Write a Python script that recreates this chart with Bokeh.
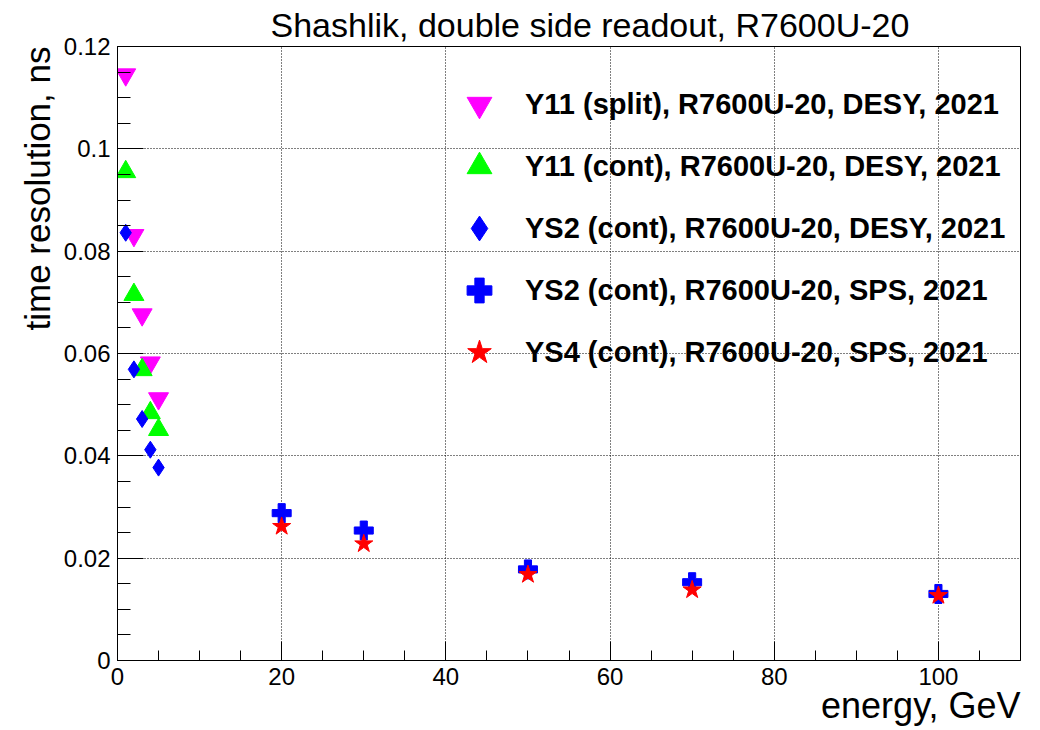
import numpy as np
from bokeh.plotting import figure
from bokeh.models import Range1d, FixedTicker, Title, Legend, LegendItem
from bokeh.embed import file_html
from bokeh.resources import INLINE

# ---------------- data ----------------
title_text = "Shashlik, double side readout, R7600U-20"
x_label = "energy, GeV"
y_label = "time resolution, ns"

desy_energy = [1, 2, 3, 4, 5]
sps_energy = [20, 30, 50, 70, 100]

y11_split_desy = [0.1145, 0.0831, 0.0676, 0.0582, 0.0512]
y11_cont_desy = [0.0955, 0.0715, 0.0568, 0.0484, 0.0451]
ys2_cont_desy = [0.0836, 0.0569, 0.0472, 0.0412, 0.0377]
ys2_cont_sps = [0.0288, 0.0254, 0.0178, 0.0153, 0.0130]
ys4_cont_sps = [0.0262, 0.0228, 0.0168, 0.0138, 0.0127]

series_labels = [
    "Y11 (split), R7600U-20, DESY, 2021",
    "Y11 (cont), R7600U-20, DESY, 2021",
    "YS2 (cont), R7600U-20, DESY, 2021",
    "YS2 (cont), R7600U-20, SPS, 2021",
    "YS4 (cont), R7600U-20, SPS, 2021",
]

x_ticks = [0, 20, 40, 60, 80, 100]
x_tick_labels = ["0", "20", "40", "60", "80", "100"]
y_ticks = [0.0, 0.02, 0.04, 0.06, 0.08, 0.1, 0.12]
y_tick_labels = ["0", "0.02", "0.04", "0.06", "0.08", "0.1", "0.12"]

FONT = "Liberation Sans"

# ---------------- figure ----------------
p = figure(width=1040, height=730, output_backend="svg", toolbar_location=None,
           x_range=Range1d(0, 110), y_range=Range1d(0, 0.12),
           min_border_left=117, min_border_right=20,
           min_border_top=44, min_border_bottom=70)
p.title.visible = False
p.background_fill_color = "white"
p.border_fill_color = "white"
p.outline_line_color = "black"
p.outline_line_width = 1

xt = FixedTicker(ticks=x_ticks, minor_ticks=[float(v) for v in np.arange(0, 111, 5)])
yt = FixedTicker(ticks=y_ticks, minor_ticks=[round(float(v), 3) for v in np.arange(0, 0.1201, 0.005)])
p.xaxis.ticker = xt
p.yaxis.ticker = yt
p.xgrid.ticker = xt
p.ygrid.ticker = yt
p.xaxis.major_label_overrides = {float(t): l for t, l in zip(x_ticks, x_tick_labels)}
p.yaxis.major_label_overrides = {float(t): l for t, l in zip(y_ticks, y_tick_labels)}

for ax in (p.xaxis[0], p.yaxis[0]):
    ax.axis_line_color = "black"
    ax.axis_line_width = 1
    ax.major_tick_line_color = "black"
    ax.minor_tick_line_color = "black"
    ax.major_tick_out = 0
    ax.minor_tick_out = 0
    ax.major_label_text_font = FONT
    ax.major_label_text_font_size = "24px"
    ax.major_label_text_color = "black"
    ax.major_label_standoff = 7
p.xaxis.major_tick_in = 19
p.xaxis.minor_tick_in = 10
p.yaxis.major_tick_in = 26
p.yaxis.minor_tick_in = 13

for g in (p.xgrid[0], p.ygrid[0]):
    g.grid_line_color = "black"
    g.grid_line_dash = "1 2"
    g.grid_line_width = 1

# ---------------- data markers ----------------
r1 = p.scatter(desy_energy, y11_split_desy, marker="inverted_triangle", size=20,
               fill_color="#ff00ff", line_color="#ff00ff")
r2 = p.scatter(desy_energy, y11_cont_desy, marker="triangle", size=20,
               fill_color="#00ff00", line_color="#00ff00")
r3 = p.scatter(desy_energy, ys2_cont_desy, marker="diamond", size=17,
               fill_color="#0000ff", line_color="#0000ff")
r4 = p.scatter(sps_energy, ys2_cont_sps, marker="plus", size=19,
               fill_color="#0000ff", line_color="#0000ff")
r5 = p.scatter(sps_energy, ys4_cont_sps, marker="star", size=19,
               fill_color="#ff0000", line_color="#ff0000")

legend = Legend(
    items=[LegendItem(label=lab, renderers=[r]) for lab, r in zip(series_labels, [r1, r2, r3, r4, r5])],
    location=(331, 277),
    border_line_color=None, background_fill_alpha=0,
    label_text_font=FONT, label_text_font_size="29px", label_text_font_style="bold",
    label_text_color="black", label_standoff=15,
    glyph_width=62, glyph_height=62, label_height=62,
    spacing=0, padding=0, margin=0,
)
p.add_layout(legend)

# ---------------- texts ----------------
p.add_layout(Title(text=title_text, align="left", offset=153, standoff=6,
                   text_font=FONT, text_font_size="34px", text_font_style="normal",
                   text_color="black"), "above")
p.add_layout(Title(text=x_label, align="right", standoff=-9,
                   text_font=FONT, text_font_size="36px", text_font_style="normal",
                   text_color="black"), "below")
p.add_layout(Title(text=y_label, align="right", standoff=8,
                   text_font=FONT, text_font_size="35px", text_font_style="normal",
                   text_color="black"), "left")

open("out.html", "w").write(file_html(p, INLINE))
